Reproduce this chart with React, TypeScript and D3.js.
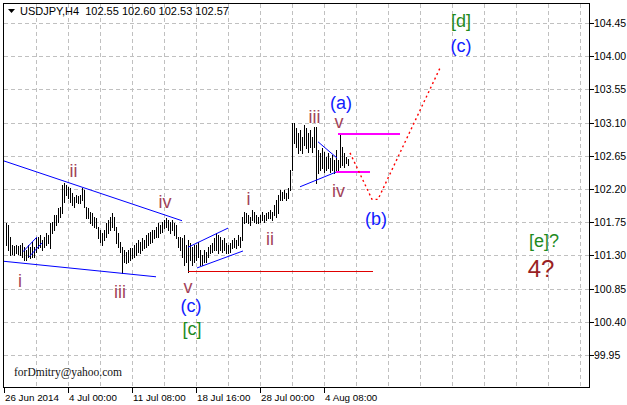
import React from 'react';
import * as d3 from 'd3';

// ---- data (bar index, price) ----
const highs = [
  101.74, 101.71, 101.55, 101.44, 101.43, 101.44, 101.43, 101.44, 101.47, 101.41,
  101.37, 101.44, 101.41, 101.48, 101.41, 101.54, 101.55, 101.58, 101.51, 101.55,
  101.60, 101.58, 101.74, 101.75, 101.85, 101.85, 101.94, 101.96, 102.26, 102.28,
  102.26, 102.23, 102.21, 102.15, 102.09, 102.12, 102.10, 102.12, 102.21, 102.19,
  101.96, 101.94, 101.89, 101.88, 101.82, 101.81, 101.69, 101.64, 101.60, 101.64,
  101.74, 101.78, 101.82, 101.88, 101.82, 101.69, 101.60, 101.48, 101.41, 101.37,
  101.35, 101.37, 101.40, 101.40, 101.44, 101.47, 101.51, 101.48, 101.54, 101.51,
  101.58, 101.60, 101.62, 101.64, 101.64, 101.69, 101.74, 101.71, 101.75, 101.78,
  101.81, 101.78, 101.75, 101.78, 101.74, 101.71, 101.55, 101.55, 101.54, 101.58,
  101.44, 101.51, 101.47, 101.41, 101.44, 101.44, 101.48, 101.37, 101.31, 101.37,
  101.35, 101.41, 101.44, 101.47, 101.54, 101.60, 101.58, 101.55, 101.51, 101.54,
  101.47, 101.44, 101.47, 101.51, 101.54, 101.51, 101.58, 101.55, 101.82, 101.89,
  101.88, 101.85, 101.82, 101.92, 101.89, 101.85, 101.82, 101.85, 101.89, 101.85,
  101.88, 101.89, 101.92, 101.89, 101.98, 102.05, 102.12, 102.19, 102.16, 102.19,
  102.15, 102.21, 102.46, 103.10, 103.10, 103.03, 102.96, 103.00, 102.91, 103.07,
  103.03, 102.96, 103.00, 102.91, 103.04, 103.04, 102.73, 102.69, 102.76, 102.70,
  102.63, 102.69, 102.62, 102.66, 102.59, 102.73, 102.59, 102.95, 102.77, 102.69,
  102.63, 102.60,
];
const lows = [
  101.44, 101.37, 101.31, 101.32, 101.31, 101.33, 101.32, 101.31, 101.28, 101.24,
  101.24, 101.28, 101.26, 101.28, 101.28, 101.35, 101.40, 101.41, 101.37, 101.41,
  101.44, 101.47, 101.40, 101.60, 101.64, 101.71, 101.75, 101.82, 101.88, 102.02,
  102.12, 102.08, 102.02, 101.98, 101.96, 102.02, 102.01, 102.01, 102.05, 101.96,
  101.81, 101.81, 101.74, 101.71, 101.69, 101.67, 101.54, 101.48, 101.44, 101.51,
  101.55, 101.60, 101.64, 101.69, 101.64, 101.47, 101.41, 101.35, 101.06, 101.21,
  101.20, 101.21, 101.24, 101.26, 101.28, 101.31, 101.35, 101.33, 101.37, 101.40,
  101.41, 101.44, 101.47, 101.48, 101.54, 101.55, 101.55, 101.60, 101.62, 101.67,
  101.69, 101.64, 101.60, 101.64, 101.58, 101.54, 101.41, 101.37, 101.28, 101.17,
  101.21, 101.07, 101.24, 101.17, 101.21, 101.24, 101.28, 101.17, 101.17, 101.21,
  101.21, 101.28, 101.33, 101.35, 101.37, 101.37, 101.33, 101.37, 101.35, 101.37,
  101.33, 101.33, 101.35, 101.40, 101.41, 101.40, 101.44, 101.41, 101.51, 101.74,
  101.75, 101.74, 101.71, 101.78, 101.75, 101.74, 101.74, 101.75, 101.78, 101.75,
  101.78, 101.81, 101.81, 101.78, 101.85, 101.82, 101.88, 102.05, 102.05, 102.08,
  102.05, 102.08, 102.19, 102.46, 102.82, 102.77, 102.69, 102.73, 102.69, 102.80,
  102.76, 102.70, 102.77, 102.70, 102.77, 102.28, 102.42, 102.46, 102.49, 102.43,
  102.46, 102.49, 102.43, 102.46, 102.42, 102.46, 102.43, 102.50, 102.53, 102.50,
  102.55, 102.53,
];

const priceTicks = [99.95, 100.4, 100.85, 101.3, 101.75, 102.2, 102.65, 103.1, 103.55, 104.0, 104.45];
const timeTickIdx = [0, 32, 64, 96, 128, 160];
const timeTickLabels = ['26 Jun 2014', '4 Jul 00:00', '11 Jul 08:00', '18 Jul 16:00', '28 Jul 00:00', '4 Aug 08:00'];

const header = 'USDJPY,H4  102.55 102.60 102.53 102.57';
const watermark = 'forDmitry@yahoo.com';

// trend lines: [i1, p1, i2, p2]
const blueLines = [
  [0, 102.58, 89, 101.77],
  [0, 101.22, 76, 101.01],
  [9.5, 101.35, 16.5, 101.55],
  [12.5, 101.28, 19, 101.47],
  [92, 101.41, 112, 101.67],
  [96.5, 101.13, 119.5, 101.36],
  [148, 102.23, 167, 102.44],
  [157, 102.84, 166.5, 102.62],
];
const redLines = [[92, 101.09, 184.5, 101.09]];
const magentaLines = [
  [167, 102.95, 198, 102.95],
  [166, 102.43, 183, 102.43],
];
const forecastPath = [
  [173, 102.69],
  [184, 102.06],
  [187, 102.06],
  [218, 103.84],
];

// wave labels: [text, i, price, kind]
const waveLabels: [string, number, number, string][] = [
  ['i', 8, 100.87, 'minor'],
  ['ii', 34.75, 102.36, 'minor'],
  ['iii', 58, 100.72, 'minor'],
  ['iv', 80.5, 101.94, 'minor'],
  ['v', 92, 100.79, 'minor'],
  ['(c)', 93.5, 100.53, 'inter'],
  ['[c]', 94, 100.22, 'primary'],
  ['i', 122.25, 101.98, 'minor'],
  ['ii', 133, 101.44, 'minor'],
  ['iii', 155.25, 103.1, 'minor'],
  ['iv', 167.25, 102.09, 'minor'],
  ['v', 167.5, 103.03, 'minor'],
  ['(a)', 168.5, 103.29, 'inter'],
  ['(b)', 186, 101.71, 'inter'],
  ['[d]', 228.5, 104.4, 'primary'],
  ['(c)', 228.5, 104.06, 'inter'],
  ['[e]?', 270, 101.41, 'primary'],
  ['4?', 268.5, 101.01, 'cycle'],
];

const labelStyle: Record<string, { fill: string; size: number }> = {
  minor: { fill: '#a3435a', size: 18 },
  inter: { fill: '#1020ff', size: 18 },
  primary: { fill: '#1e8a1e', size: 18 },
  cycle: { fill: '#9a1f24', size: 24 },
};

const W = 627;
const H = 405;
const PL = 3.5, PR = 589.5, PT = 3.5, PB = 387.5;

export default function App() {
  const x = d3.scaleLinear().domain([0, 292]).range([4, 588]);
  const y = d3.scaleLinear().domain([99.95, 104.45]).range([355, 23]);
  const crisp = (v: number) => Math.round(v) + 0.5;

  const gridX: number[] = [];
  for (let i = 16; i <= 288; i += 16) gridX.push(i);

  const line = d3.line<number[]>().x((d) => x(d[0])).y((d) => y(d[1]));

  const axisFont = "'Liberation Sans', Arial, sans-serif";

  return (
    <div style={{ position: 'fixed', left: 0, top: 0, width: W, height: H, background: '#fff' }}>
      <svg width={W} height={H} style={{ display: 'block' }}>
        <rect x={0} y={0} width={W} height={H} fill="#fff" />
        {/* grid */}
        <g stroke="#c0c0c0" strokeWidth={1} strokeDasharray="4,3" shapeRendering="crispEdges">
          {gridX.map((i) => (
            <line key={'gx' + i} x1={crisp(x(i))} x2={crisp(x(i))} y1={PT} y2={PB} />
          ))}
          {priceTicks.map((p) => (
            <line key={'gy' + p} x1={PL} x2={PR} y1={crisp(y(p))} y2={crisp(y(p))} />
          ))}
        </g>
        {/* frame */}
        <rect x={PL} y={PT} width={PR - PL} height={PB - PT} fill="none" stroke="#000" strokeWidth={1} shapeRendering="crispEdges" />
        {/* price axis */}
        <g fontFamily={axisFont} fontSize={10.5} fill="#000">
          {priceTicks.map((p) => (
            <g key={'py' + p}>
              <line x1={PR} x2={PR + 4} y1={crisp(y(p))} y2={crisp(y(p))} stroke="#000" shapeRendering="crispEdges" />
              <text x={594} y={Math.round(y(p)) + 4}>{p.toFixed(2)}</text>
            </g>
          ))}
        </g>
        {/* time axis */}
        <g fontFamily={axisFont} fontSize={9.8} fill="#000">
          {timeTickIdx.map((i, k) => (
            <g key={'tx' + i}>
              <line x1={crisp(x(i))} x2={crisp(x(i))} y1={PB} y2={PB + 5} stroke="#000" shapeRendering="crispEdges" />
              <text x={Math.round(x(i)) + 1} y={401}>{timeTickLabels[k]}</text>
            </g>
          ))}
        </g>
        {/* bars */}
        <g stroke="#000" strokeWidth={1} shapeRendering="crispEdges">
          {highs.map((h, k) => {
            const i = k + 1;
            const xx = crisp(x(i));
            return <line key={'b' + i} x1={xx} x2={xx} y1={Math.round(y(h))} y2={Math.round(y(lows[k])) + 1} />;
          })}
        </g>
        {/* trend lines */}
        <g stroke="#0000ff" strokeWidth={1} fill="none">
          {blueLines.map((s, k) => (
            <line key={'bl' + k} x1={x(s[0])} y1={y(s[1])} x2={x(s[2])} y2={y(s[3])} />
          ))}
        </g>
        <g stroke="#e00000" strokeWidth={1} fill="none" shapeRendering="crispEdges">
          {redLines.map((s, k) => (
            <line key={'rl' + k} x1={x(s[0])} y1={crisp(y(s[1]))} x2={x(s[2])} y2={crisp(y(s[3]))} />
          ))}
        </g>
        <g stroke="#ff00ff" strokeWidth={2} fill="none" shapeRendering="crispEdges">
          {magentaLines.map((s, k) => (
            <line key={'ml' + k} x1={x(s[0])} y1={Math.round(y(s[1]))} x2={x(s[2])} y2={Math.round(y(s[3]))} />
          ))}
        </g>
        <path d={line(forecastPath) || ''} stroke="#ff0000" strokeWidth={1.4} strokeDasharray="2,3" fill="none" />
        {/* wave labels */}
        <g fontFamily={axisFont} textAnchor="middle">
          {waveLabels.map(([t, i, p, kind], k) => (
            <text key={'wl' + k} x={x(i)} y={y(p)} fill={labelStyle[kind].fill} fontSize={labelStyle[kind].size}>
              {t}
            </text>
          ))}
        </g>
        {/* header */}
        <polygon points="8,9 15,9 11.5,13" fill="#000" />
        <text x={20} y={15} fontFamily={axisFont} fontSize={11} fill="#000" style={{ whiteSpace: 'pre' }}>
          {header}
        </text>
        {/* watermark */}
        <text x={14} y={376} fontFamily="'Liberation Serif', 'Times New Roman', serif" fontSize={11.5} fill="#111">
          {watermark}
        </text>
      </svg>
    </div>
  );
}
